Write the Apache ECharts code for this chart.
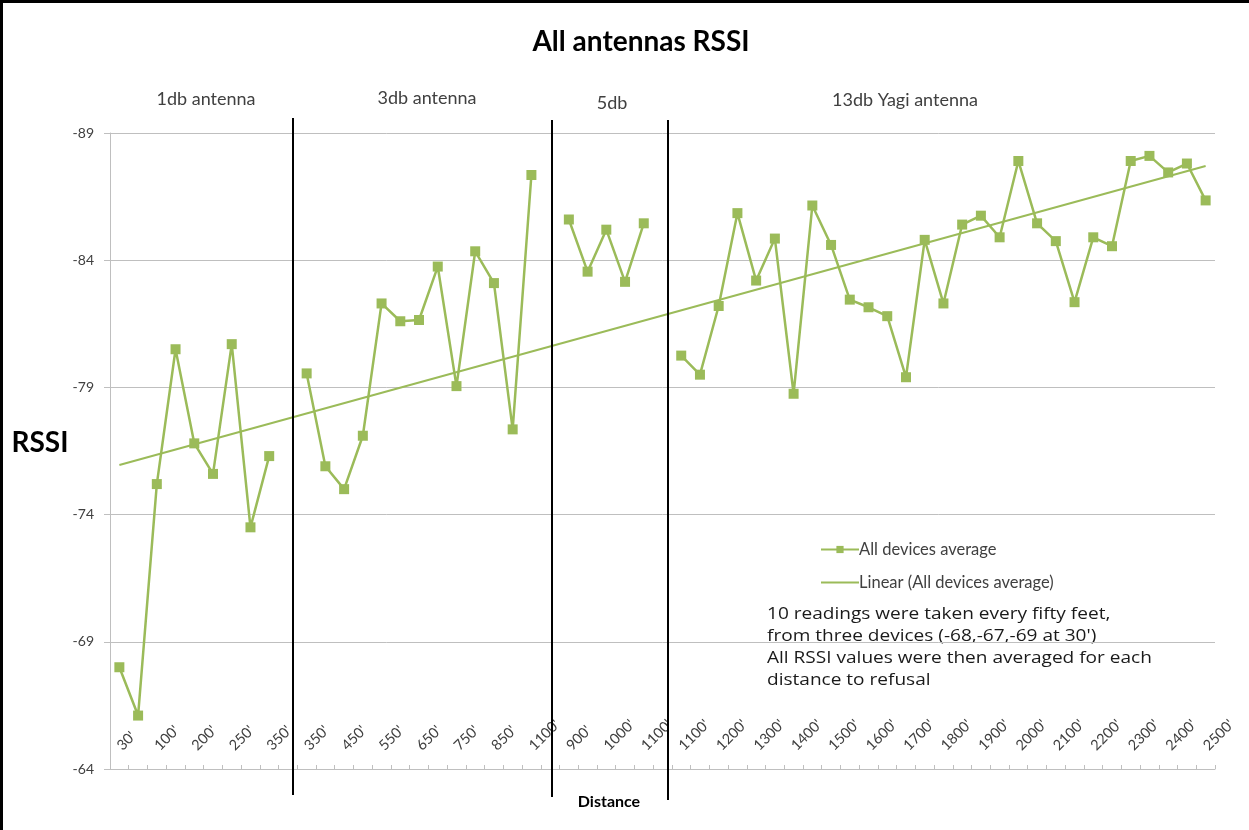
<!DOCTYPE html>
<html>
<head>
<meta charset="utf-8">
<script src="https://cdn.jsdelivr.net/npm/echarts@6/dist/echarts.min.js"></script>
<style>
  html, body { margin: 0; padding: 0; background: #fff; }
  #chart { width: 1249px; height: 830px; }
</style>
</head>
<body>
<div id="chart"></div>
<script>
// Shown tick labels (every other category carries a label)
var tickLabels = ["30'", "100'", "200'", "250'", "350'", "350'", "450'", "550'", "650'", "750'", "850'", "1100'",
  "900'", "1000'", "1100'", "1100'", "1200'", "1300'", "1400'", "1500'", "1600'", "1700'", "1800'", "1900'",
  "2000'", "2100'", "2200'", "2300'", "2400'", "2500'"];

// Averaged RSSI per segment (null = gap between antennas)
var db1 = [-68.0, -66.1, -75.2, -80.5, -76.8, -75.6, -80.7, -73.5, -76.3];
var db3 = [-79.55, -75.9, -75.0, -77.1, -82.3, -81.6, -81.65, -83.75, -79.05, -84.35, -83.1, -77.35, -87.35];
var db5 = [-85.6, -83.55, -85.2, -83.15, -85.45];
var db13 = [-80.25, -79.5, -82.2, -85.85, -83.2, -84.85, -78.75, -86.15, -84.6, -82.45, -82.15, -81.8, -79.4,
  -84.8, -82.3, -85.4, -85.75, -84.9, -87.9, -85.45, -84.75, -82.35, -84.9, -84.55, -87.9, -88.1, -87.45, -87.8, -86.35];

// Linear trendline ends (first and last category)
var trendEnds = [-75.95, -87.7];

var yTicks = { min: -89, max: -64, interval: 5 };

var values = [].concat(db1, [null], db3, [null], db5, [null], db13);
var categories = [];
for (var i = 0; i < values.length; i++) {
  categories.push(i % 2 === 0 ? tickLabels[i / 2] : '');
}
var trendData = categories.map(function (_, i) {
  if (i === 0) return trendEnds[0];
  if (i === categories.length - 1) return trendEnds[1];
  return null;
});

var FONT = 'Lato, "Open Sans", sans-serif';
var FONT2 = '"Open Sans", Lato, sans-serif';
var TXT = '#404040';
var GREEN = '#9bbb59';
var GRAY = '#bfbfbf';

var chart = echarts.init(document.getElementById('chart'), null, { renderer: 'canvas' });

var option = {
  backgroundColor: '#ffffff',
  animation: false,
  textStyle: { fontFamily: FONT },
  grid: { left: 110, right: 34, top: 133, bottom: 61, containLabel: false },
  legend: {
    data: [
      { name: 'All devices average' },
      { name: 'Linear (All devices average)', itemStyle: { opacity: 0 } }
    ],
    orient: 'vertical',
    left: 815,
    top: 536,
    itemWidth: 38,
    itemHeight: 9,
    itemGap: 16,
    textStyle: { fontFamily: FONT, fontSize: 16.5, color: TXT, padding: [0, 0, 0, -5] }
  },
  xAxis: {
    type: 'category',
    data: categories,
    boundaryGap: true,
    axisLine: { show: true, lineStyle: { color: GRAY, width: 1 } },
    axisTick: { show: true, inside: true, length: 4, interval: 0, lineStyle: { color: GRAY } },
    axisLabel: {
      show: true, inside: true, rotate: 45, interval: 0, margin: 21,
      fontSize: 14.5, color: TXT, fontFamily: FONT
    },
    splitLine: { show: false }
  },
  yAxis: {
    type: 'value',
    inverse: true,
    min: yTicks.min,
    max: yTicks.max,
    interval: yTicks.interval,
    axisLine: { show: true, lineStyle: { color: GRAY, width: 1 } },
    axisTick: { show: true, inside: false, length: 6, lineStyle: { color: GRAY } },
    axisLabel: { fontSize: 14, color: TXT, margin: 16, fontFamily: FONT },
    splitLine: { show: true, lineStyle: { color: GRAY, width: 1 } }
  },
  series: [
    {
      name: 'All devices average',
      type: 'line',
      data: values,
      connectNulls: false,
      symbol: 'rect',
      symbolSize: 10,
      itemStyle: { color: GREEN },
      lineStyle: { color: GREEN, width: 2.5 },
      z: 3
    },
    {
      name: 'Linear (All devices average)',
      type: 'line',
      data: trendData,
      connectNulls: true,
      symbol: 'none',
      itemStyle: { color: GREEN },
      lineStyle: { color: GREEN, width: 2 },
      z: 2
    }
  ],
  graphic: [
    { type: 'line', shape: { x1: 0, y1: 1.5, x2: 1249, y2: 1.5 }, style: { stroke: '#000', lineWidth: 3 } },
    { type: 'line', shape: { x1: 1.5, y1: 0, x2: 1.5, y2: 830 }, style: { stroke: '#000', lineWidth: 3 } },
    { type: 'text', style: { text: 'All antennas RSSI', x: 641, y: 42, font: 'bold 28px ' + FONT, fill: '#000', textAlign: 'center', textVerticalAlign: 'middle' } },
    { type: 'text', style: { text: '1db antenna', x: 206, y: 99, font: '18px ' + FONT, fill: TXT, textAlign: 'center', textVerticalAlign: 'middle' } },
    { type: 'text', style: { text: '3db antenna', x: 427, y: 98, font: '18px ' + FONT, fill: TXT, textAlign: 'center', textVerticalAlign: 'middle' } },
    { type: 'text', style: { text: '5db', x: 612, y: 103, font: '18px ' + FONT, fill: TXT, textAlign: 'center', textVerticalAlign: 'middle' } },
    { type: 'text', style: { text: '13db Yagi antenna', x: 905, y: 100, font: '18px ' + FONT, fill: TXT, textAlign: 'center', textVerticalAlign: 'middle' } },
    { type: 'text', style: { text: 'RSSI', x: 40, y: 443, font: 'bold 28px ' + FONT, fill: '#000', textAlign: 'center', textVerticalAlign: 'middle' } },
    { type: 'text', style: { text: 'Distance', x: 609, y: 802, font: 'bold 16px ' + FONT, fill: '#000', textAlign: 'center', textVerticalAlign: 'middle' } },
    { type: 'text', x: 767, y: 603, scaleX: 1.19, scaleY: 1, style: {
        text: "10 readings were taken every fifty feet,\nfrom three devices (-68,-67,-69 at 30')\nAll RSSI values were then averaged for each\ndistance to refusal",
        x: 0, y: 0, font: '16px ' + FONT2, fill: '#1a1a1a', lineHeight: 22 } },
    { type: 'line', shape: { x1: 293, y1: 118, x2: 293, y2: 795 }, style: { stroke: '#000', lineWidth: 2 }, z: 10 },
    { type: 'line', shape: { x1: 552, y1: 120, x2: 552, y2: 797 }, style: { stroke: '#000', lineWidth: 2 }, z: 10 },
    { type: 'line', shape: { x1: 668, y1: 120, x2: 668, y2: 800 }, style: { stroke: '#000', lineWidth: 2 }, z: 10 }
  ]
};
chart.setOption(option);
</script>
</body>
</html>
